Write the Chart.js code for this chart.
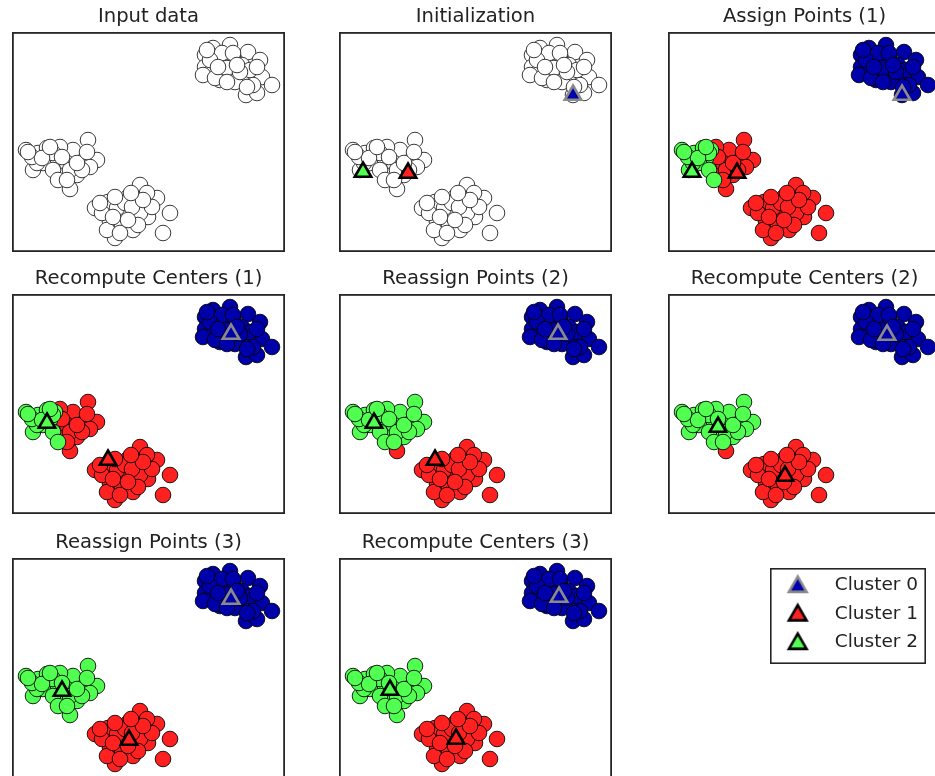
<!DOCTYPE html>
<html>
<head>
<meta charset="utf-8">
<script src="https://cdn.jsdelivr.net/npm/chart.js@4.4.1/dist/chart.umd.min.js"></script>
<style>
html,body{margin:0;padding:0;background:#fff;overflow:hidden;}
#fig{position:relative;width:935px;height:776px;overflow:hidden;background:#fff;}
#fig canvas{position:absolute;}
</style>
</head>
<body>
<div id="fig"></div>
<script>
// ---------------- DATA ----------------
const panelTitles = [
  "Input data", "Initialization", "Assign Points (1)",
  "Recompute Centers (1)", "Reassign Points (2)", "Recompute Centers (2)",
  "Reassign Points (3)", "Recompute Centers (3)"
];
const clusterNames = ["Cluster 0", "Cluster 1", "Cluster 2"];

// feature 0 of every sample (upper-right blob, left blob, bottom blob)
const featureX = [
  20.1,21.8,23.6,24.8,22.1,20.8,19.3,19.3,20.1,21.8,23.3,
  25.0,26.0,23.4,24.5,20.8,19.1,23.0,24.1,22.3,21.0,23.8,
  19.8,21.5,22.1,20.3,23.5,22.8,19.5,24.5,21.5,20.6,22.5,
  1.4,2.6,2.1,3.8,4.3,5.3,7.6,7.3,8.5,5.0,6.5,
  5.8,3.1,6.8,4.1,6.1,4.8,3.5,2.5,5.5,4.6,7.8,
  2.0,4.1,5.8,7.0,5.0,3.0,6.5,5.5,3.8,7.5,1.6,
  8.3,9.6,12.8,12.5,14.5,13.3,15.8,13.6,10.8,9.8,11.0,
  12.1,10.3,15.1,11.6,11.5,12.1,10.5,9.0,13.5,12.8,11.3,
  9.5,14.0,12.0,10.1,12.6,10.8,13.1,8.8,10.3,11.6,11.9
];
// feature 1 of every sample
const featureY = [
  20.4,20.7,20.0,19.2,19.4,19.0,19.7,18.5,18.2,17.7,17.5,
  17.5,16.7,15.7,15.9,17.2,17.7,18.7,16.7,17.0,19.9,18.2,
  19.2,18.4,19.9,17.4,16.5,18.0,20.2,18.5,17.0,18.5,18.7,
  10.2,9.9,8.2,9.4,10.2,10.0,11.2,9.2,9.2,7.9,7.7,
  6.3,8.9,9.5,8.2,10.2,10.5,10.4,8.9,8.9,7.2,8.5,
  9.5,9.9,8.2,8.2,9.5,9.4,8.9,7.2,10.5,10.0,10.0,
  4.4,5.0,6.7,5.2,5.4,4.4,3.9,3.5,3.9,3.0,2.7,
  2.2,1.4,1.9,5.5,3.9,3.5,4.4,3.9,5.9,3.9,4.9,
  2.2,4.5,4.5,3.5,2.7,1.9,5.2,4.9,5.5,3.2,5.9
];

// cluster assignment after each assignment step
const labelsStep1 = [
  0,0,0,0,0,0,0,0,0,0,0, 0,0,0,0,0,0,0,0,0,0,0, 0,0,0,0,0,0,0,0,0,0,0,
  2,2,2,2,2,1,1,1,1,1,1, 1,2,1,2,1,1,2,2,1,2,1, 2,2,1,1,1,2,1,1,2,1,2,
  1,1,1,1,1,1,1,1,1,1,1, 1,1,1,1,1,1,1,1,1,1,1, 1,1,1,1,1,1,1,1,1,1,1
];
const labelsStep2 = [
  0,0,0,0,0,0,0,0,0,0,0, 0,0,0,0,0,0,0,0,0,0,0, 0,0,0,0,0,0,0,0,0,0,0,
  2,2,2,2,2,2,2,2,2,2,2, 1,2,2,2,2,2,2,2,2,2,2, 2,2,2,2,2,2,2,2,2,2,2,
  1,1,1,1,1,1,1,1,1,1,1, 1,1,1,1,1,1,1,1,1,1,1, 1,1,1,1,1,1,1,1,1,1,1
];
const labelsStep3 = [
  0,0,0,0,0,0,0,0,0,0,0, 0,0,0,0,0,0,0,0,0,0,0, 0,0,0,0,0,0,0,0,0,0,0,
  2,2,2,2,2,2,2,2,2,2,2, 2,2,2,2,2,2,2,2,2,2,2, 2,2,2,2,2,2,2,2,2,2,2,
  1,1,1,1,1,1,1,1,1,1,1, 1,1,1,1,1,1,1,1,1,1,1, 1,1,1,1,1,1,1,1,1,1,1
];

// cluster centers (cluster 0, 1, 2)
const centersInitX = [23.4, 6.9, 2.4];
const centersInitY = [15.7, 7.9, 8.0];
const centers1X = [21.9, 9.6, 3.5];
const centers1Y = [18.0, 5.4, 9.1];
const centers2X = [21.9, 11.7, 5.0];
const centers2Y = [17.9, 3.8, 8.7];
const centers3X = [22.0, 11.7, 5.1];
const centers3Y = [18.1, 3.9, 8.8];

// ---------------- STYLE / LAYOUT ----------------
const clusterColors = ['#0000aa', '#ff2020', '#50ff50'];
const centerEdges = ['#8a8a8a', '#000000', '#000000'];
const FONT = "'DejaVu Sans', 'Liberation Sans', sans-serif";
const colLeft = [12, 339, 668];
const rowTop = [0, 262, 526];
const PANEL_W = 273, PANEL_H = 252;

const panels = [
  {labels: null,        cx: null,         cy: null},
  {labels: null,        cx: centersInitX, cy: centersInitY},
  {labels: labelsStep1, cx: centersInitX, cy: centersInitY},
  {labels: labelsStep1, cx: centers1X,    cy: centers1Y},
  {labels: labelsStep2, cx: centers1X,    cy: centers1Y},
  {labels: labelsStep2, cx: centers2X,    cy: centers2Y},
  {labels: labelsStep3, cx: centers2X,    cy: centers2Y},
  {labels: labelsStep3, cx: centers3X,    cy: centers3Y}
];

const framePlugin = {
  id: 'frame',
  afterDatasetsDraw(chart) {
    const a = chart.chartArea, ctx = chart.ctx;
    ctx.save();
    ctx.strokeStyle = '#262626';
    ctx.lineWidth = 1.8;
    ctx.strokeRect(a.left + 0.9, a.top + 0.9, a.right - a.left - 1.8, a.bottom - a.top - 1.8);
    ctx.restore();
  }
};

const fig = document.getElementById('fig');

function makeCanvas(left, top, w, h) {
  const c = document.createElement('canvas');
  c.width = w; c.height = h;
  c.style.left = left + 'px'; c.style.top = top + 'px';
  c.style.width = w + 'px'; c.style.height = h + 'px';
  fig.appendChild(c);
  return c;
}

panels.forEach((p, idx) => {
  const canvas = makeCanvas(colLeft[idx % 3], rowTop[Math.floor(idx / 3)], PANEL_W, PANEL_H);
  const datasets = [];
  if (p.cx) {
    datasets.push({
      label: 'centers',
      data: p.cx.map((x, i) => ({x: x, y: p.cy[i]})),
      pointStyle: 'triangle',
      pointRadius: 9.5,
      pointBackgroundColor: clusterColors,
      pointBorderColor: centerEdges,
      pointBorderWidth: 2.6,
      order: 0
    });
  }
  if (!p.labels) {
    datasets.push({
      label: 'data',
      data: featureX.map((x, i) => ({x: x, y: featureY[i]})),
      pointRadius: 7.8,
      pointBackgroundColor: '#ffffff',
      pointBorderColor: '#3a3a3a',
      pointBorderWidth: 1,
      order: 5
    });
  } else {
    [0, 1, 2].forEach(l => {
      const pts = [];
      featureX.forEach((x, i) => { if (p.labels[i] === l) pts.push({x: x, y: featureY[i]}); });
      datasets.push({
        label: clusterNames[l],
        data: pts,
        pointRadius: 7.8,
        pointBackgroundColor: clusterColors[l],
        pointBorderColor: 'rgba(0,0,0,0.85)',
        pointBorderWidth: 1,
        order: 3 - l + 1
      });
    });
  }
  new Chart(canvas, {
    type: 'scatter',
    data: {datasets},
    options: {
      responsive: false,
      animation: false,
      devicePixelRatio: 1,
      events: [],
      layout: {padding: 0, autoPadding: false},
      scales: {
        x: {type: 'linear', min: 0, max: 27.3, display: false},
        y: {type: 'linear', min: 0, max: 22, display: false}
      },
      plugins: {
        legend: {display: false},
        tooltip: {enabled: false},
        title: {
          display: true,
          text: panelTitles[idx],
          color: '#222',
          font: {family: FONT, size: 19.6, weight: 'normal', lineHeight: 1.2},
          padding: {top: 5.6, bottom: 2.9}
        }
      }
    },
    plugins: [framePlugin]
  });
});

// ---------------- LEGEND ----------------
function triangleGlyph(fill, edge) {
  const c = document.createElement('canvas');
  c.width = 26; c.height = 26;
  const ctx = c.getContext('2d');
  const r = 10.2, cx = 13, cy = 14.5;
  ctx.beginPath();
  for (let k = 0; k < 3; k++) {
    const a = k * 2 * Math.PI / 3;
    const px = cx + Math.sin(a) * r, py = cy - Math.cos(a) * r;
    if (k === 0) ctx.moveTo(px, py); else ctx.lineTo(px, py);
  }
  ctx.closePath();
  ctx.fillStyle = fill; ctx.fill();
  ctx.lineWidth = 2.6; ctx.lineJoin = 'miter'; ctx.strokeStyle = edge; ctx.stroke();
  return c;
}

const legendFrame = {
  id: 'legendFrame',
  afterDraw(chart) {
    const ctx = chart.ctx;
    ctx.save();
    ctx.strokeStyle = '#262626';
    ctx.lineWidth = 1.6;
    ctx.strokeRect(10.8, 2.8, 154.4, 94.4);
    ctx.restore();
  }
};

const legendCanvas = makeCanvas(760, 566, 175, 200);
new Chart(legendCanvas, {
  type: 'scatter',
  data: {
    datasets: clusterNames.map((name, l) => ({
      label: name,
      data: [],
      pointStyle: triangleGlyph(clusterColors[l], centerEdges[l]),
      backgroundColor: clusterColors[l],
      borderColor: centerEdges[l]
    }))
  },
  options: {
    responsive: false,
    animation: false,
    devicePixelRatio: 1,
    events: [],
    layout: {padding: 0, autoPadding: false},
    scales: {x: {display: false}, y: {display: false}},
    plugins: {
      tooltip: {enabled: false},
      title: {display: false},
      legend: {
        display: true,
        position: 'top',
        align: 'start',
        labels: {
          usePointStyle: true,
          pointStyleWidth: 55.5,
          boxHeight: 15,
          padding: 10,
          color: '#222',
          font: {family: FONT, size: 18.5, weight: 'normal'}
        }
      }
    }
  },
  plugins: [legendFrame]
});
</script>
</body>
</html>
